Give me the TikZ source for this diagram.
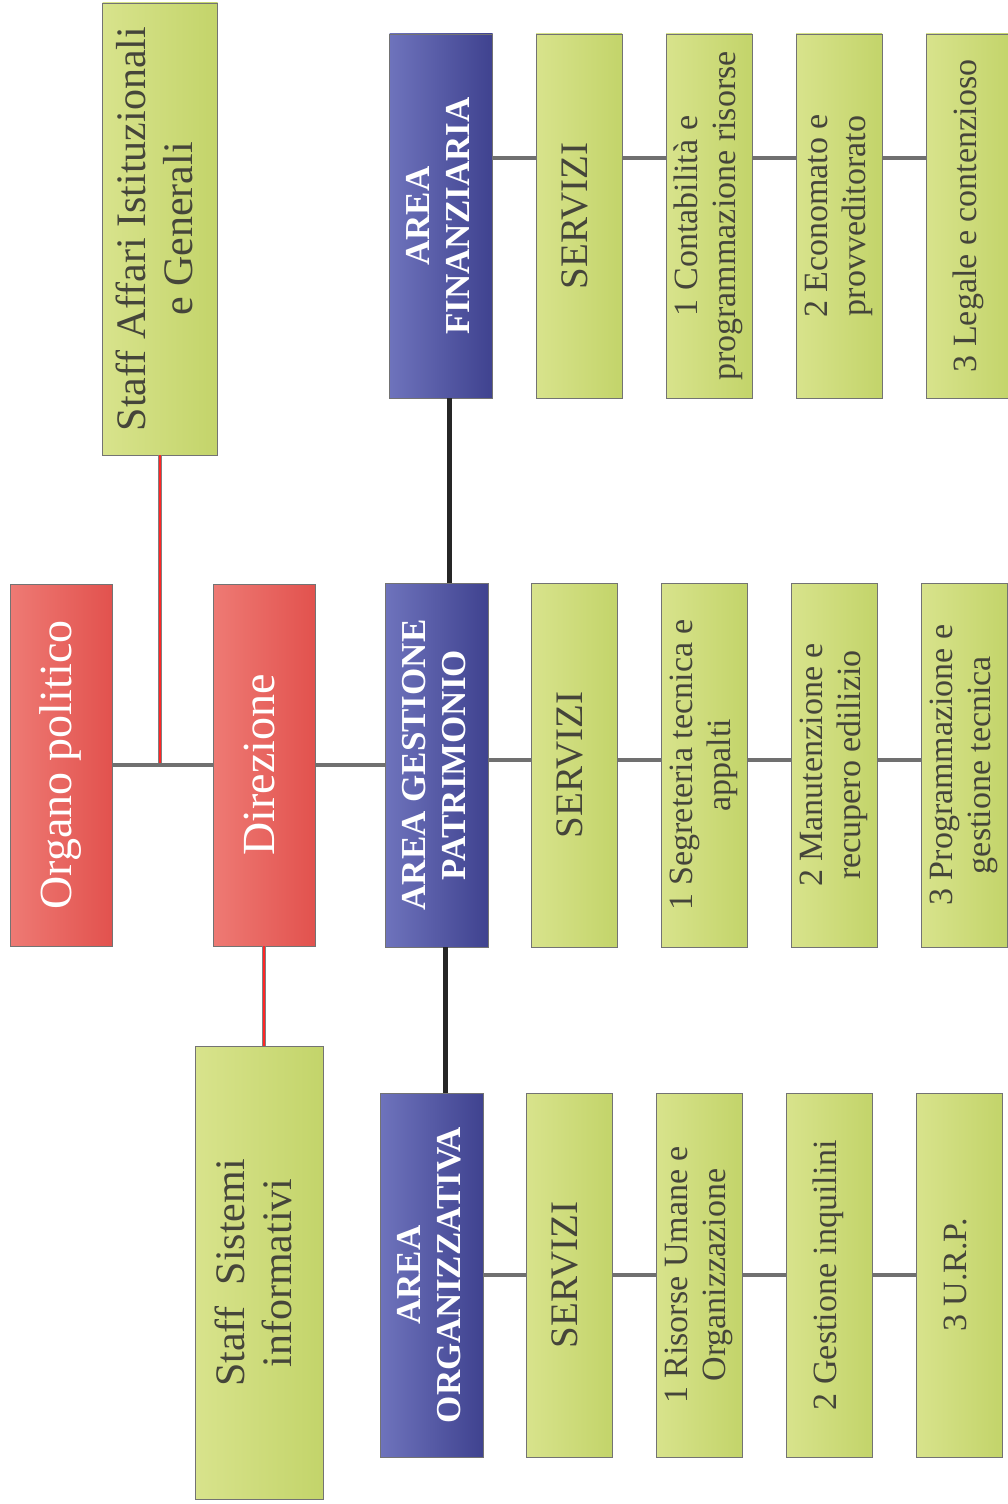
\documentclass[tikz,border=0pt]{standalone}
\usepackage{fontspec}
\setmainfont{Liberation Serif}
\usepackage{graphicx}

\definecolor{grnL}{HTML}{D8E38C}
\definecolor{grnD}{HTML}{C3D46A}
\definecolor{redL}{HTML}{EE7A74}
\definecolor{redD}{HTML}{E2524E}
\definecolor{bluL}{HTML}{6E73BC}
\definecolor{bluD}{HTML}{3F428F}
\definecolor{txtgray}{HTML}{45453A}
\definecolor{linegray}{HTML}{707070}

% rotated multi-line label
\newcommand{\vlab}[1]{\rotatebox{90}{\begin{tabular}{@{}c@{}}#1\end{tabular}}}

\begin{document}
\begin{tikzpicture}[x=1pt,y=1pt]
		\tikzstyle{entry} = [draw=black!55, line width=0.8pt, rectangle, inner sep=0pt, left color=grnL, right color=grnD, text=txtgray, minimum width=86pt, minimum height=364pt, font={\fontsize{34}{38}\selectfont}]
		\tikzstyle{staff} = [entry, font={\fontsize{42}{47}\selectfont}]
		\tikzstyle{srv} = [entry, font={\fontsize{39}{44}\selectfont}]
		\tikzstyle{boss} = [entry, left color=redL, right color=redD, text=white, minimum width=102pt, minimum height=362pt, font={\fontsize{46}{50}\selectfont}]
		\tikzstyle{area} = [entry, left color=bluL, right color=bluD, text=white, minimum width=103pt, minimum height=364pt, font={\fontsize{35}{40}\selectfont\bfseries}]
		\tikzstyle{link} = [draw=linegray, line width=4pt]
		\tikzstyle{redlink} = [draw=gray, double=red!85!white, double distance=2pt, line width=1pt]
		\tikzstyle{stem} = [draw=black!85, line width=5pt]
		\useasboundingbox (0,0) rectangle (1008,-1504);

		\node[staff, minimum width=115pt, minimum height=452pt] (staffaff) at (160,-229) {\vlab{Staff Affari Istituzionali\\e Generali}};
		\node[boss] (organo) at (61,-765) {\vlab{Organo politico}};
		\node[boss] (direz) [right of=organo, node distance=203pt] {\vlab{Direzione}};
		\node[staff, minimum width=128pt, minimum height=453pt] (staffsis) at (259,-1273) {\vlab{Staff~ Sistemi\\informativi}};
		\draw[redlink] (staffaff.south) -- (staffaff.south |- organo.east);
		\draw[redlink] (direz.south) -- (direz.south |- staffsis.north);
		\draw[link] (organo.east) -- (direz.west);

		\node[area] (apat) [right of=direz, node distance=173pt] {\vlab{AREA GESTIONE\\PATRIMONIO}};
		\node[area] (afin) at (441,-216) {\vlab{AREA\\FINANZIARIA}};
		\node[area] (aorg) at (432,-1275) {\vlab{AREA\\ORGANIZZATIVA}};
		\draw[link] (direz.east) -- (apat.west);
		\draw[stem] ([xshift=12pt]apat.north) -- ([xshift=12pt]apat.north |- afin.south);
		\draw[stem] ([xshift=8pt]apat.south) -- ([xshift=8pt]apat.south |- aorg.north);

		% area finanziaria
		\node[srv] (sfin) [right of=afin, node distance=138pt] {\vlab{SERVIZI}};
		\node[entry] (fin1) [right of=sfin, node distance=130pt] {\vlab{1 Contabilità e\\programmazione risorse}};
		\node[entry] (fin2) [right of=fin1, node distance=130pt] {\vlab{2 Economato e\\provveditorato}};
		\node[entry] (fin3) [right of=fin2, node distance=130pt] {\vlab{3 Legale e contenzioso}};
		\draw[link] ([yshift=58pt]afin.east) -- ([yshift=58pt]sfin.west) ([yshift=58pt]sfin.east) -- ([yshift=58pt]fin1.west)
			([yshift=58pt]fin1.east) -- ([yshift=58pt]fin2.west) ([yshift=58pt]fin2.east) -- ([yshift=58pt]fin3.west);

		% area gestione patrimonio
		\node[srv] (spat) [right of=apat, node distance=137pt] {\vlab{SERVIZI}};
		\node[entry] (pat1) [right of=spat, node distance=130pt] {\vlab{1 Segreteria tecnica e\\appalti}};
		\node[entry] (pat2) [right of=pat1, node distance=130pt] {\vlab{2 Manutenzione e\\recupero edilizio}};
		\node[entry] (pat3) [right of=pat2, node distance=130pt] {\vlab{3 Programmazione e\\gestione tecnica}};
		\draw[link] ([yshift=5pt]apat.east) -- ([yshift=5pt]spat.west) ([yshift=5pt]spat.east) -- ([yshift=5pt]pat1.west)
			([yshift=5pt]pat1.east) -- ([yshift=5pt]pat2.west) ([yshift=5pt]pat2.east) -- ([yshift=5pt]pat3.west);

		% area organizzativa
		\node[srv] (sorg) [right of=aorg, node distance=137pt] {\vlab{SERVIZI}};
		\node[entry] (org1) [right of=sorg, node distance=130pt] {\vlab{1 Risorse Umane e\\Organizzazione}};
		\node[entry] (org2) [right of=org1, node distance=130pt] {\vlab{2 Gestione inquilini}};
		\node[entry] (org3) [right of=org2, node distance=130pt] {\vlab{3 U.R.P.}};
		\draw[link] (aorg.east) -- (sorg.west) (sorg.east) -- (org1.west) (org1.east) -- (org2.west) (org2.east) -- (org3.west);
	\end{tikzpicture}
\end{document}
